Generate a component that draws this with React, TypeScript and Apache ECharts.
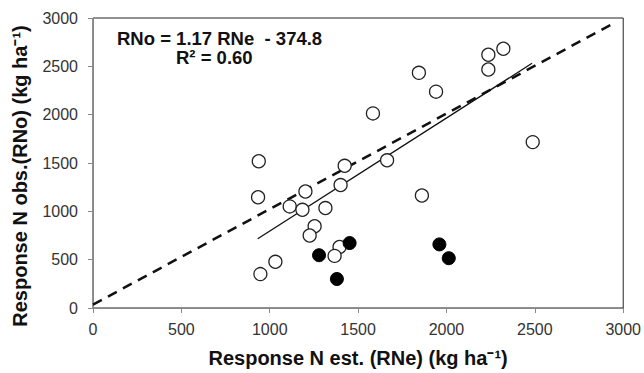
import React, { useEffect, useRef } from "react";
import * as echarts from "echarts";

const openPoints: [number, number][] = [
  [938, 1518], [934, 1146], [1113, 1051], [1202, 1205], [1185, 1016],
  [1315, 1034], [1424, 1471], [1401, 1272], [1254, 846], [1226, 750],
  [1032, 478], [947, 351], [1395, 631], [1367, 539], [1584, 2013],
  [1844, 2433], [1941, 2238], [2237, 2620], [2237, 2467], [2322, 2682],
  [2488, 1716], [1664, 1528], [1861, 1164],
];
const filledPoints: [number, number][] = [
  [1279, 546], [1452, 672], [1380, 300], [1960, 658], [2013, 515],
];
const slope = 1.17;
const intercept = -374.8;
const fitRange = [932, 2484];
const oneToOne: [number, number][] = [[0, 35], [2950, 2950]];
const equationText = "RNo = 1.17 RNe  - 374.8";
const r2Text = "R² = 0.60";
const xTitle = "Response N est. (RNe) (kg ha⁻¹)";
const yTitle = "Response N obs.(RNo) (kg ha⁻¹)";

export default function App() {
  const ref = useRef<HTMLDivElement>(null);
  useEffect(() => {
    if (!ref.current) return;
    const chart = echarts.init(ref.current, null, { renderer: "svg" });
    const fitLine = fitRange.map((x) => [x, slope * x + intercept]);
    const font = "'Liberation Sans', Arial, sans-serif";
    chart.setOption({
      animation: false,
      grid: {
        left: 93, right: 20, top: 18, bottom: 62,
        show: true, borderColor: "#222", borderWidth: 1, backgroundColor: "#fff",
      },
      xAxis: {
        type: "value", min: 0, max: 3000, interval: 500,
        name: xTitle,
        nameLocation: "middle", nameGap: 40,
        nameTextStyle: { fontFamily: font, fontSize: 20, fontWeight: "bold", color: "#111" },
        axisLine: { show: true, lineStyle: { color: "#888", width: 1 } },
        axisTick: { show: true, length: 5, lineStyle: { color: "#888" } },
        axisLabel: { fontFamily: font, fontSize: 16, color: "#333", margin: 13, formatter: (v: number) => String(v) },
        splitLine: { show: false },
      },
      yAxis: {
        type: "value", min: 0, max: 3000, interval: 500,
        axisLine: { show: true, lineStyle: { color: "#888", width: 1 } },
        axisTick: { show: true, length: 5, lineStyle: { color: "#888" } },
        axisLabel: { fontFamily: font, fontSize: 16, color: "#333", margin: 15, formatter: (v: number) => String(v) },
        splitLine: { show: false },
      },
      series: [
        {
          type: "line", data: oneToOne, symbol: "none",
          lineStyle: { color: "#111", width: 2.5, type: [10, 7] },
          z: 1,
        },
        {
          type: "line", data: fitLine, symbol: "none",
          lineStyle: { color: "#111", width: 1.3 },
          z: 2,
        },
        {
          type: "scatter", data: openPoints, symbol: "circle", symbolSize: 13,
          itemStyle: { color: "#fff", borderColor: "#222", borderWidth: 1.3, opacity: 1 },
          z: 3,
        },
        {
          type: "scatter", data: filledPoints, symbol: "circle", symbolSize: 13,
          itemStyle: { color: "#000", borderColor: "#000", borderWidth: 1, opacity: 1 },
          z: 4,
        },
      ],
      graphic: [
        {
          type: "text", x: 20, y: 176, rotation: Math.PI / 2,
          style: {
            text: yTitle, x: 0, y: 0, align: "center", verticalAlign: "middle",
            font: `bold 20px ${font}`, fill: "#111",
          },
        },
        {
          type: "text", left: 117, top: 29,
          style: { text: equationText, font: `bold 18.5px ${font}`, lineHeight: 18, fill: "#111" },
        },
        {
          type: "text", left: 176, top: 48,
          style: { text: r2Text, font: `bold 18.5px ${font}`, lineHeight: 18, fill: "#111" },
        },
      ],
    });
    return () => chart.dispose();
  }, []);
  return <div ref={ref} style={{ position: "absolute", left: 0, top: 0, width: 644, height: 373 }} />;
}
